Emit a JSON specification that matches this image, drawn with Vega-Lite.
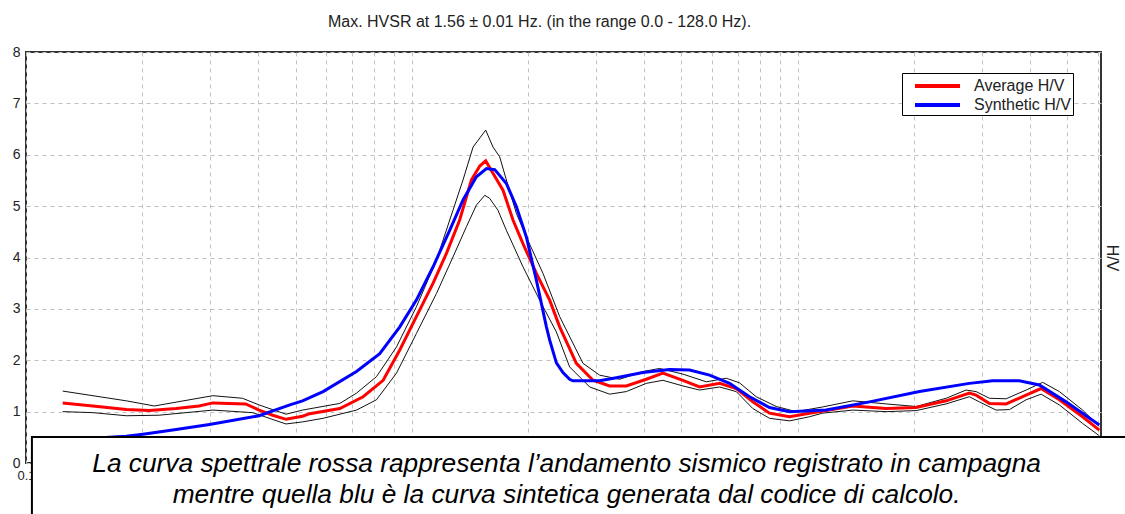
{
  "$schema": "https://vega.github.io/schema/vega-lite/v6.json",
  "width": 1075,
  "height": 411,
  "autosize": {"type": "none"},
  "padding": {"left": 26, "top": 52, "right": 24, "bottom": 51},
  "background": "white",
  "title": {
    "text": "Max. HVSR at 1.56 ± 0.01 Hz. (in the range 0.0 - 128.0 Hz).",
    "font": "Liberation Sans",
    "fontSize": 16,
    "fontWeight": "normal",
    "color": "#222222",
    "anchor": "middle",
    "dx": -24,
    "offset": 15
  },
  "datasets": {
    "hvsr": [
      {"series": "Average H/V", "f": 0.1245, "hv": 1.17},
      {"series": "Average H/V", "f": 0.149, "hv": 1.11},
      {"series": "Average H/V", "f": 0.182, "hv": 1.04},
      {"series": "Average H/V", "f": 0.209, "hv": 1.02},
      {"series": "Average H/V", "f": 0.245, "hv": 1.06},
      {"series": "Average H/V", "f": 0.281, "hv": 1.11},
      {"series": "Average H/V", "f": 0.305, "hv": 1.17},
      {"series": "Average H/V", "f": 0.371, "hv": 1.15},
      {"series": "Average H/V", "f": 0.402, "hv": 1.03},
      {"series": "Average H/V", "f": 0.436, "hv": 0.93},
      {"series": "Average H/V", "f": 0.472, "hv": 0.85},
      {"series": "Average H/V", "f": 0.521, "hv": 0.91},
      {"series": "Average H/V", "f": 0.544, "hv": 0.96},
      {"series": "Average H/V", "f": 0.651, "hv": 1.06},
      {"series": "Average H/V", "f": 0.748, "hv": 1.29},
      {"series": "Average H/V", "f": 0.843, "hv": 1.61},
      {"series": "Average H/V", "f": 0.931, "hv": 2.2},
      {"series": "Average H/V", "f": 1.028, "hv": 2.85},
      {"series": "Average H/V", "f": 1.136, "hv": 3.5},
      {"series": "Average H/V", "f": 1.23, "hv": 4.08},
      {"series": "Average H/V", "f": 1.331, "hv": 4.73},
      {"series": "Average H/V", "f": 1.428, "hv": 5.51},
      {"series": "Average H/V", "f": 1.501, "hv": 5.78},
      {"series": "Average H/V", "f": 1.555, "hv": 5.88},
      {"series": "Average H/V", "f": 1.624, "hv": 5.64},
      {"series": "Average H/V", "f": 1.724, "hv": 5.31},
      {"series": "Average H/V", "f": 1.83, "hv": 4.73},
      {"series": "Average H/V", "f": 1.942, "hv": 4.27},
      {"series": "Average H/V", "f": 2.104, "hv": 3.69},
      {"series": "Average H/V", "f": 2.278, "hv": 3.17},
      {"series": "Average H/V", "f": 2.418, "hv": 2.65},
      {"series": "Average H/V", "f": 2.671, "hv": 1.94},
      {"series": "Average H/V", "f": 2.95, "hv": 1.61},
      {"series": "Average H/V", "f": 3.258, "hv": 1.5},
      {"series": "Average H/V", "f": 3.599, "hv": 1.5},
      {"series": "Average H/V", "f": 4.055, "hv": 1.63},
      {"series": "Average H/V", "f": 4.477, "hv": 1.75},
      {"series": "Average H/V", "f": 5.046, "hv": 1.61},
      {"series": "Average H/V", "f": 5.574, "hv": 1.48},
      {"series": "Average H/V", "f": 6.28, "hv": 1.55},
      {"series": "Average H/V", "f": 6.938, "hv": 1.45},
      {"series": "Average H/V", "f": 7.659, "hv": 1.19},
      {"series": "Average H/V", "f": 8.462, "hv": 0.97},
      {"series": "Average H/V", "f": 9.535, "hv": 0.9},
      {"series": "Average H/V", "f": 10.74, "hv": 0.97},
      {"series": "Average H/V", "f": 11.87, "hv": 1.02},
      {"series": "Average H/V", "f": 13.91, "hv": 1.11},
      {"series": "Average H/V", "f": 16.98, "hv": 1.06},
      {"series": "Average H/V", "f": 20.3, "hv": 1.08},
      {"series": "Average H/V", "f": 24.28, "hv": 1.21},
      {"series": "Average H/V", "f": 27.9, "hv": 1.36},
      {"series": "Average H/V", "f": 29.04, "hv": 1.32},
      {"series": "Average H/V", "f": 31.45, "hv": 1.16},
      {"series": "Average H/V", "f": 34.74, "hv": 1.15},
      {"series": "Average H/V", "f": 39.13, "hv": 1.32},
      {"series": "Average H/V", "f": 42.79, "hv": 1.45},
      {"series": "Average H/V", "f": 47.74, "hv": 1.23},
      {"series": "Average H/V", "f": 54.84, "hv": 0.9},
      {"series": "Average H/V", "f": 60.59, "hv": 0.64},

      {"series": "Synthetic H/V", "f": 0.1245, "hv": 0.44},
      {"series": "Synthetic H/V", "f": 0.149, "hv": 0.48},
      {"series": "Synthetic H/V", "f": 0.182, "hv": 0.52},
      {"series": "Synthetic H/V", "f": 0.201, "hv": 0.56},
      {"series": "Synthetic H/V", "f": 0.245, "hv": 0.65},
      {"series": "Synthetic H/V", "f": 0.299, "hv": 0.75},
      {"series": "Synthetic H/V", "f": 0.402, "hv": 0.92},
      {"series": "Synthetic H/V", "f": 0.483, "hv": 1.13},
      {"series": "Synthetic H/V", "f": 0.521, "hv": 1.21},
      {"series": "Synthetic H/V", "f": 0.589, "hv": 1.39},
      {"series": "Synthetic H/V", "f": 0.719, "hv": 1.78},
      {"series": "Synthetic H/V", "f": 0.826, "hv": 2.13},
      {"series": "Synthetic H/V", "f": 0.931, "hv": 2.65},
      {"series": "Synthetic H/V", "f": 1.028, "hv": 3.17},
      {"series": "Synthetic H/V", "f": 1.136, "hv": 3.82},
      {"series": "Synthetic H/V", "f": 1.254, "hv": 4.53},
      {"series": "Synthetic H/V", "f": 1.358, "hv": 5.12},
      {"series": "Synthetic H/V", "f": 1.471, "hv": 5.57},
      {"series": "Synthetic H/V", "f": 1.562, "hv": 5.73},
      {"series": "Synthetic H/V", "f": 1.641, "hv": 5.71},
      {"series": "Synthetic H/V", "f": 1.759, "hv": 5.44},
      {"series": "Synthetic H/V", "f": 1.867, "hv": 4.99},
      {"series": "Synthetic H/V", "f": 1.982, "hv": 4.4},
      {"series": "Synthetic H/V", "f": 2.104, "hv": 3.56},
      {"series": "Synthetic H/V", "f": 2.234, "hv": 2.65},
      {"series": "Synthetic H/V", "f": 2.278, "hv": 2.39},
      {"series": "Synthetic H/V", "f": 2.371, "hv": 1.95},
      {"series": "Synthetic H/V", "f": 2.466, "hv": 1.76},
      {"series": "Synthetic H/V", "f": 2.566, "hv": 1.63},
      {"series": "Synthetic H/V", "f": 2.617, "hv": 1.6},
      {"series": "Synthetic H/V", "f": 3.069, "hv": 1.6},
      {"series": "Synthetic H/V", "f": 3.391, "hv": 1.66},
      {"series": "Synthetic H/V", "f": 3.974, "hv": 1.76},
      {"series": "Synthetic H/V", "f": 4.66, "hv": 1.82},
      {"series": "Synthetic H/V", "f": 5.251, "hv": 1.81},
      {"series": "Synthetic H/V", "f": 5.916, "hv": 1.71},
      {"series": "Synthetic H/V", "f": 6.666, "hv": 1.55},
      {"series": "Synthetic H/V", "f": 7.509, "hv": 1.29},
      {"series": "Synthetic H/V", "f": 8.462, "hv": 1.08},
      {"series": "Synthetic H/V", "f": 9.535, "hv": 1.0},
      {"series": "Synthetic H/V", "f": 11.87, "hv": 1.03},
      {"series": "Synthetic H/V", "f": 15.37, "hv": 1.19},
      {"series": "Synthetic H/V", "f": 20.71, "hv": 1.39},
      {"series": "Synthetic H/V", "f": 27.9, "hv": 1.55},
      {"series": "Synthetic H/V", "f": 32.06, "hv": 1.6},
      {"series": "Synthetic H/V", "f": 37.59, "hv": 1.6},
      {"series": "Synthetic H/V", "f": 42.36, "hv": 1.52},
      {"series": "Synthetic H/V", "f": 49.68, "hv": 1.19},
      {"series": "Synthetic H/V", "f": 60.59, "hv": 0.74},

      {"series": "Upper", "f": 0.1245, "hv": 1.4},
      {"series": "Upper", "f": 0.182, "hv": 1.21},
      {"series": "Upper", "f": 0.215, "hv": 1.11},
      {"series": "Upper", "f": 0.305, "hv": 1.31},
      {"series": "Upper", "f": 0.364, "hv": 1.26},
      {"series": "Upper", "f": 0.402, "hv": 1.13},
      {"series": "Upper", "f": 0.472, "hv": 0.95},
      {"series": "Upper", "f": 0.521, "hv": 1.03},
      {"series": "Upper", "f": 0.651, "hv": 1.16},
      {"series": "Upper", "f": 0.719, "hv": 1.36},
      {"series": "Upper", "f": 0.81, "hv": 1.68},
      {"series": "Upper", "f": 0.913, "hv": 2.26},
      {"series": "Upper", "f": 1.028, "hv": 3.04},
      {"series": "Upper", "f": 1.159, "hv": 3.95},
      {"series": "Upper", "f": 1.279, "hv": 4.92},
      {"series": "Upper", "f": 1.358, "hv": 5.51},
      {"series": "Upper", "f": 1.442, "hv": 6.15},
      {"series": "Upper", "f": 1.555, "hv": 6.48},
      {"series": "Upper", "f": 1.624, "hv": 6.15},
      {"series": "Upper", "f": 1.69, "hv": 5.96},
      {"series": "Upper", "f": 1.759, "hv": 5.51},
      {"series": "Upper", "f": 1.867, "hv": 4.86},
      {"series": "Upper", "f": 1.982, "hv": 4.4},
      {"series": "Upper", "f": 2.189, "hv": 3.69},
      {"series": "Upper", "f": 2.418, "hv": 2.85},
      {"series": "Upper", "f": 2.779, "hv": 1.94},
      {"series": "Upper", "f": 3.069, "hv": 1.71},
      {"series": "Upper", "f": 3.459, "hv": 1.63},
      {"series": "Upper", "f": 3.974, "hv": 1.78},
      {"series": "Upper", "f": 4.391, "hv": 1.84},
      {"series": "Upper", "f": 5.046, "hv": 1.73},
      {"series": "Upper", "f": 5.802, "hv": 1.58},
      {"series": "Upper", "f": 6.537, "hv": 1.65},
      {"series": "Upper", "f": 7.075, "hv": 1.56},
      {"series": "Upper", "f": 7.816, "hv": 1.29},
      {"series": "Upper", "f": 8.807, "hv": 1.1},
      {"series": "Upper", "f": 9.922, "hv": 1.0},
      {"series": "Upper", "f": 11.6, "hv": 1.09},
      {"series": "Upper", "f": 13.91, "hv": 1.21},
      {"series": "Upper", "f": 16.98, "hv": 1.15},
      {"series": "Upper", "f": 20.3, "hv": 1.1},
      {"series": "Upper", "f": 24.28, "hv": 1.26},
      {"series": "Upper", "f": 27.35, "hv": 1.42},
      {"series": "Upper", "f": 29.04, "hv": 1.39},
      {"series": "Upper", "f": 31.45, "hv": 1.26},
      {"series": "Upper", "f": 34.74, "hv": 1.25},
      {"series": "Upper", "f": 39.13, "hv": 1.42},
      {"series": "Upper", "f": 43.21, "hv": 1.57},
      {"series": "Upper", "f": 47.74, "hv": 1.39},
      {"series": "Upper", "f": 54.84, "hv": 1.03},
      {"series": "Upper", "f": 60.59, "hv": 0.71},

      {"series": "Lower", "f": 0.1245, "hv": 1.0},
      {"series": "Lower", "f": 0.149, "hv": 0.98},
      {"series": "Lower", "f": 0.182, "hv": 0.92},
      {"series": "Lower", "f": 0.221, "hv": 0.93},
      {"series": "Lower", "f": 0.305, "hv": 1.03},
      {"series": "Lower", "f": 0.387, "hv": 0.98},
      {"series": "Lower", "f": 0.472, "hv": 0.76},
      {"series": "Lower", "f": 0.521, "hv": 0.8},
      {"series": "Lower", "f": 0.589, "hv": 0.87},
      {"series": "Lower", "f": 0.719, "hv": 1.03},
      {"series": "Lower", "f": 0.81, "hv": 1.23},
      {"series": "Lower", "f": 0.913, "hv": 1.75},
      {"series": "Lower", "f": 1.028, "hv": 2.52},
      {"series": "Lower", "f": 1.159, "hv": 3.3},
      {"series": "Lower", "f": 1.279, "hv": 4.01},
      {"series": "Lower", "f": 1.386, "hv": 4.6},
      {"series": "Lower", "f": 1.471, "hv": 5.02},
      {"series": "Lower", "f": 1.546, "hv": 5.21},
      {"series": "Lower", "f": 1.593, "hv": 5.15},
      {"series": "Lower", "f": 1.673, "hv": 4.92},
      {"series": "Lower", "f": 1.759, "hv": 4.53},
      {"series": "Lower", "f": 1.942, "hv": 3.82},
      {"series": "Lower", "f": 2.146, "hv": 3.17},
      {"series": "Lower", "f": 2.371, "hv": 2.55},
      {"series": "Lower", "f": 2.566, "hv": 1.87},
      {"series": "Lower", "f": 2.892, "hv": 1.48},
      {"series": "Lower", "f": 3.258, "hv": 1.34},
      {"series": "Lower", "f": 3.599, "hv": 1.39},
      {"series": "Lower", "f": 4.055, "hv": 1.55},
      {"series": "Lower", "f": 4.477, "hv": 1.61},
      {"series": "Lower", "f": 5.046, "hv": 1.5},
      {"series": "Lower", "f": 5.574, "hv": 1.42},
      {"series": "Lower", "f": 6.28, "hv": 1.48},
      {"series": "Lower", "f": 6.938, "hv": 1.39},
      {"series": "Lower", "f": 7.659, "hv": 1.06},
      {"series": "Lower", "f": 8.462, "hv": 0.87},
      {"series": "Lower", "f": 9.535, "hv": 0.82},
      {"series": "Lower", "f": 10.74, "hv": 0.9},
      {"series": "Lower", "f": 11.6, "hv": 0.97},
      {"series": "Lower", "f": 13.91, "hv": 1.03},
      {"series": "Lower", "f": 16.98, "hv": 1.0},
      {"series": "Lower", "f": 20.3, "hv": 1.02},
      {"series": "Lower", "f": 24.28, "hv": 1.15},
      {"series": "Lower", "f": 27.9, "hv": 1.29},
      {"series": "Lower", "f": 29.61, "hv": 1.19},
      {"series": "Lower", "f": 32.72, "hv": 1.03},
      {"series": "Lower", "f": 35.42, "hv": 1.04},
      {"series": "Lower", "f": 39.13, "hv": 1.23},
      {"series": "Lower", "f": 42.79, "hv": 1.34},
      {"series": "Lower", "f": 47.74, "hv": 1.13},
      {"series": "Lower", "f": 54.84, "hv": 0.77},
      {"series": "Lower", "f": 60.59, "hv": 0.53}
    ],
    "note": [
      {"caption": "La curva spettrale rossa rappresenta l’andamento sismico registrato in campagna\nmentre quella blu è la curva sintetica generata dal codice di calcolo."}
    ]
  },
  "layer": [
    {
      "data": {"name": "hvsr"},
      "transform": [{"filter": "datum.series === 'Upper' || datum.series === 'Lower'"}],
      "mark": {"type": "line", "color": "#111111", "strokeWidth": 1},
      "encoding": {
        "x": {
          "field": "f", "type": "quantitative",
          "scale": {"type": "log", "domain": [0.1, 61.2], "nice": false},
          "axis": {
            "title": null,
            "values": [0.1, 0.2, 0.3, 0.4, 0.5, 0.6, 0.7, 0.8, 0.9, 1, 2, 3, 4, 5, 6, 7, 8, 9, 10, 20, 30, 40, 50, 60],
            "labelExpr": "datum.value == 0.1 ? '0.1' : ''",
            "labelFlush": false,
            "labelOverlap": false,
            "labelPadding": 6,
            "grid": true
          }
        },
        "y": {
          "field": "hv", "type": "quantitative",
          "scale": {"domain": [0, 8], "nice": false, "zero": false},
          "axis": {"title": null, "values": [0, 1, 2, 3, 4, 5, 6, 7, 8], "grid": true, "labelPadding": 6, "labelFontSize": 14}
        },
        "detail": {"field": "series"}
      }
    },
    {
      "data": {"name": "hvsr"},
      "transform": [{"filter": "datum.series === 'Average H/V' || datum.series === 'Synthetic H/V'"}],
      "mark": {"type": "line", "strokeWidth": 3},
      "encoding": {
        "x": {"field": "f", "type": "quantitative", "scale": {"type": "log", "domain": [0.1, 61.2], "nice": false}, "axis": null},
        "y": {
          "field": "hv", "type": "quantitative",
          "scale": {"domain": [0, 8], "nice": false, "zero": false},
          "axis": {"orient": "right", "title": "H/V", "titleAngle": 90, "titleFontSize": 16, "titleFontWeight": "normal", "titleFont": "Liberation Sans", "titleColor": "#222222", "titlePadding": 2, "labels": false, "grid": false, "ticks": false, "domain": false}
        },
        "color": {
          "field": "series", "type": "nominal",
          "scale": {"domain": ["Average H/V", "Synthetic H/V"], "range": ["#ff0000", "#0000ff"]},
          "legend": {"title": null, "labelExpr": "datum.label + '\u00a0\u00a0'"}
        }
      }
    },
    {
      "data": {"values": [{"box": "caption"}]},
      "mark": {"type": "rect", "fill": "white", "stroke": "black", "strokeWidth": 2, "clip": false},
      "encoding": {
        "x": {"datum": 0.1036, "type": "quantitative", "scale": {"type": "log", "domain": [0.1, 61.2], "nice": false}, "axis": null},
        "x2": {"datum": 71.2},
        "y": {"datum": 0.506, "type": "quantitative", "scale": {"domain": [0, 8], "nice": false, "zero": false}, "axis": null},
        "y2": {"datum": -1.3}
      }
    },
    {
      "data": {"name": "note"},
      "mark": {"type": "text", "font": "Liberation Sans", "fontStyle": "italic", "fontSize": 26.3, "lineBreak": "\n", "lineHeight": 31, "align": "center", "baseline": "alphabetic", "color": "black", "clip": false},
      "encoding": {
        "x": {"datum": 2.52, "type": "quantitative", "scale": {"type": "log", "domain": [0.1, 61.2], "nice": false}, "axis": null},
        "y": {"datum": -0.18, "type": "quantitative", "scale": {"domain": [0, 8], "nice": false, "zero": false}, "axis": null},
        "text": {"field": "caption"}
      }
    }
  ],
  "resolve": {"axis": {"x": "independent", "y": "independent"}},
  "config": {
    "view": {"stroke": "#333333", "strokeWidth": 2},
    "axis": {
      "labelFont": "Liberation Sans",
      "labelFontSize": 13,
      "labelColor": "#222222",
      "gridColor": "#c0c0c0",
      "gridDash": [4, 4],
      "gridWidth": 1,
      "ticks": false,
      "domain": false,
      "zindex": 0
    },
    "legend": {
      "orient": "none",
      "legendX": 876,
      "legendY": 21,
      "symbolType": "M-1,0H4",
      "symbolStrokeWidth": 4,
      "symbolSize": 324,
      "symbolOffset": 9,
      "labelFont": "Liberation Sans",
      "labelFontSize": 16,
      "labelColor": "#222222",
      "labelOffset": 39,
      "strokeColor": "black",
      "fillColor": "white",
      "padding": 2,
      "rowPadding": 0
    }
  }
}
